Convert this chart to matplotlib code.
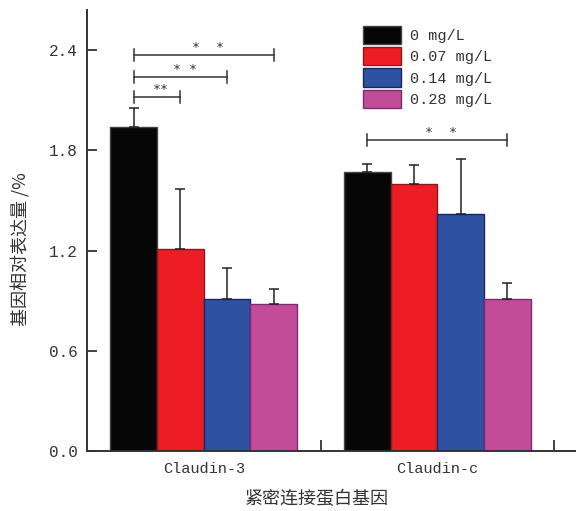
import matplotlib
matplotlib.use("Agg")
import matplotlib.pyplot as plt
import numpy as np

plt.rcParams['font.family'] = ['Liberation Mono', 'Noto Sans CJK SC', 'DejaVu Sans']

categories = ['Claudin-3', 'Claudin-c']
series_labels = ['0 mg/L', '0.07 mg/L', '0.14 mg/L', '0.28 mg/L']
means = {
    '0 mg/L':    [1.94, 1.67],
    '0.07 mg/L': [1.21, 1.60],
    '0.14 mg/L': [0.908, 1.42],
    '0.28 mg/L': [0.878, 0.908],
}
errors = {
    '0 mg/L':    [0.114, 0.05],
    '0.07 mg/L': [0.359, 0.112],
    '0.14 mg/L': [0.189, 0.33],
    '0.28 mg/L': [0.09, 0.099],
}
# significance brackets
sig_cat = [0, 0, 0, 1]
sig_from = [0, 0, 0, 0]
sig_to = [1, 2, 3, 3]
sig_y = [2.12, 2.24, 2.372, 1.861]
sig_text = ['**', '* *', '*  *', '*  *']

yticks = [0.0, 0.6, 1.2, 1.8, 2.4]
ylabel = '基因相对表达量 /%'
xlabel = '紧密连接蛋白基因'

colors = ['#060606', '#ED1D24', '#2F51A1', '#C24C98']
edges = ['#444444', '#8A1A20', '#1A2468', '#7A2A78']

fig = plt.figure(figsize=(5.76, 5.11), dpi=100)
ax = fig.add_axes([87/576, 60/511, 1 - 87/576, 441/511])

width = 0.2
centers = np.arange(len(categories)) + 0.5
offsets = (np.arange(len(series_labels)) - 1.5) * width
txtc = '#333333'

for k, s in enumerate(series_labels):
    xs = centers + offsets[k]
    ax.bar(xs, means[s], width=width, color=colors[k], edgecolor=edges[k],
           linewidth=1.0, label=s, zorder=2)
    ax.errorbar(xs, means[s], yerr=[np.zeros(len(xs)), errors[s]], fmt='none',
                ecolor='#222222', elinewidth=1.1, capsize=3.4, capthick=1.1, zorder=3)

for c, a, b, y, t in zip(sig_cat, sig_from, sig_to, sig_y, sig_text):
    x1 = centers[c] + offsets[a]
    x2 = centers[c] + offsets[b]
    ax.plot([x1, x2], [y, y], color='#333333', lw=1.1, zorder=3)
    ax.plot([x1, x1], [y - 0.036, y + 0.036], color='#333333', lw=1.1, zorder=3)
    ax.plot([x2, x2], [y - 0.036, y + 0.036], color='#333333', lw=1.1, zorder=3)
    ax.annotate(t, xy=((x1 + x2) / 2, y), xytext=(3, 5.5), textcoords='offset points',
                ha='center', va='center', fontsize=9.5, color='#333333',
                family='DejaVu Sans Mono')

ax.set_xlim(0, 2.094)
ax.set_ylim(0, 2.64)
ax.set_yticks(yticks)
ax.set_yticklabels([f'{v:.1f}' for v in yticks])
ax.set_xticks(centers)
ax.set_xticklabels(categories)
ax.set_xticks([1, 2], minor=True)
ax.tick_params(axis='x', which='major', length=0, pad=8, labelsize=11, labelcolor=txtc)
ax.tick_params(axis='x', which='minor', direction='in', length=8, width=1.3, color='#333333')
ax.tick_params(axis='y', direction='in', length=7, width=1.3, color='#333333',
               pad=6.5, labelsize=11.5, labelcolor=txtc)

for sp in ['top', 'right']:
    ax.spines[sp].set_visible(False)
for sp in ['left', 'bottom']:
    ax.spines[sp].set_color('#333333')
    ax.spines[sp].set_linewidth(1.4)

ax.set_ylabel(ylabel, fontsize=13, color=txtc, family=['Noto Sans CJK SC', 'DejaVu Sans'])
ax.yaxis.set_label_coords(-0.118, 0.458)
ax.set_xlabel(xlabel, fontsize=13, color=txtc, family=['Noto Sans CJK SC', 'DejaVu Sans'],
              va='center')
ax.xaxis.set_label_coords(0.47, (451 - 499) / 441)

leg = ax.legend(loc='upper left', bbox_to_anchor=(363/576, 1 - 26/511),
                bbox_transform=fig.transFigure, frameon=False, fontsize=11,
                handlelength=2.5, handleheight=1.45, labelspacing=0.2,
                handletextpad=0.55, borderpad=0, borderaxespad=0)
for t in leg.get_texts():
    t.set_color(txtc)

fig.savefig('out.png', dpi=100)
